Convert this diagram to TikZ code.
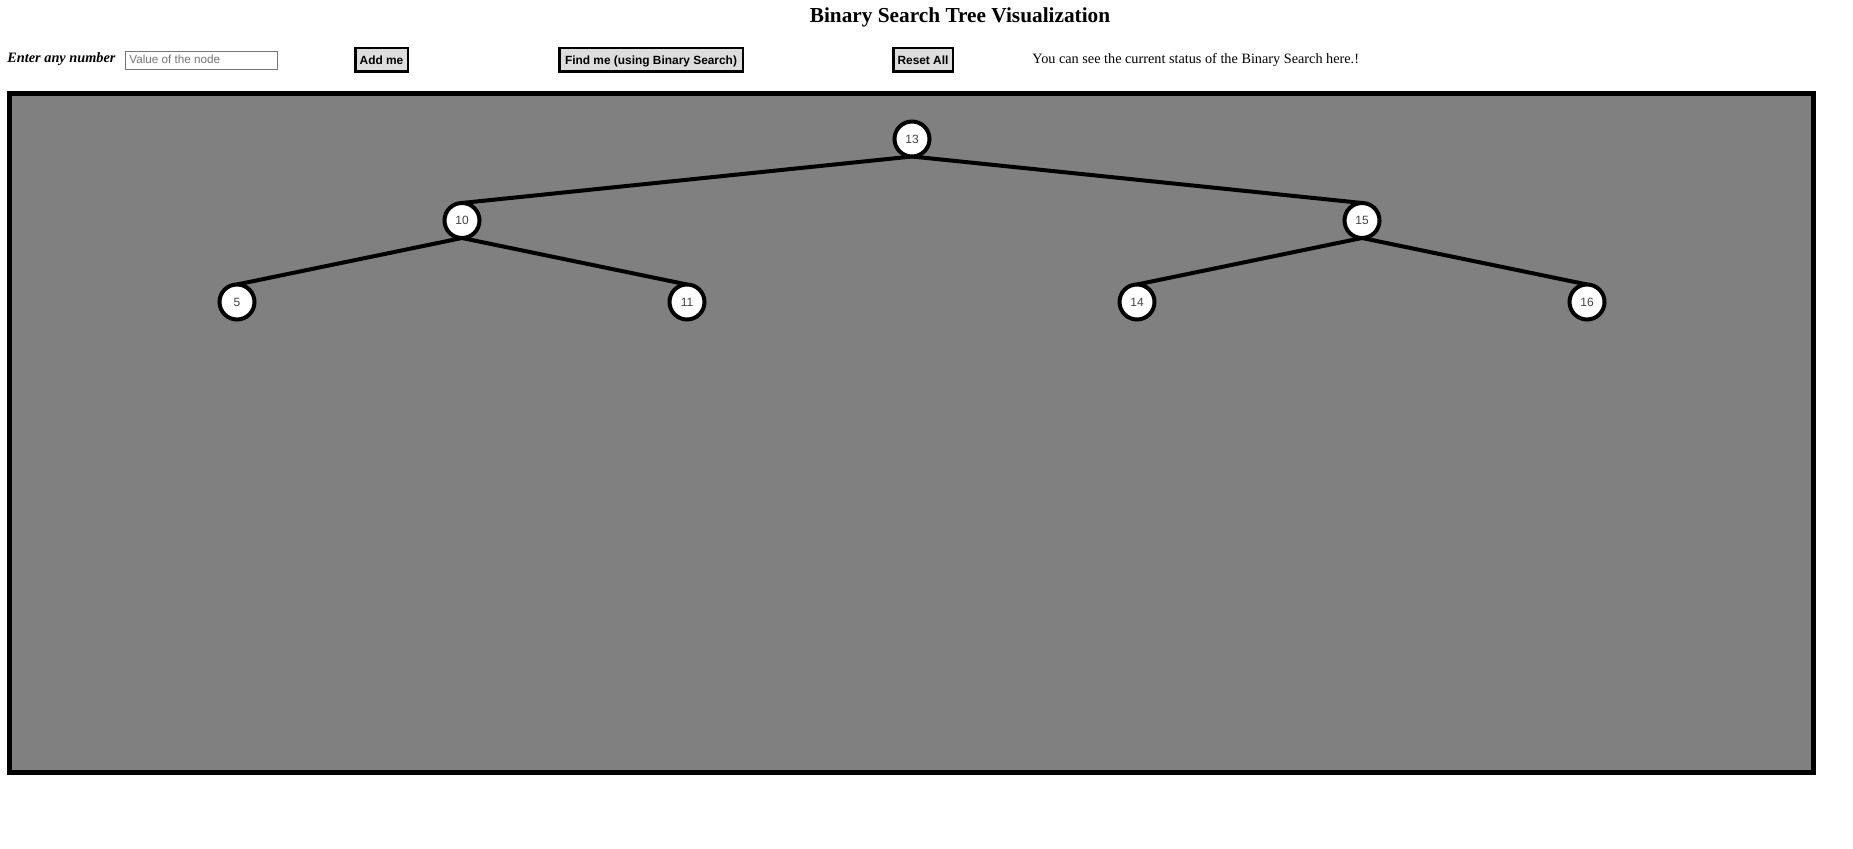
\documentclass[tikz,border=0pt]{standalone}
\usepackage{fontspec}
\setmainfont{Liberation Serif}
\newfontfamily\arialf{Liberation Sans}
\pgfdeclarelayer{bg}
\pgfdeclarelayer{edges}
\pgfsetlayers{bg,edges,main}
\definecolor{canvasgray}{HTML}{808080}
\definecolor{btngray}{HTML}{DDDDDD}
\definecolor{inputborder}{HTML}{767676}
\definecolor{placeholder}{HTML}{757575}
\definecolor{nodetext}{HTML}{444444}
\begin{document}
\begin{tikzpicture}[x=0.5pt,y=-0.5pt,
  treenode/.style={circle, draw=black, fill=white, line width=2pt, minimum size=17.5pt, inner sep=0pt, outer sep=0pt, font=\arialf\fontsize{6pt}{7pt}\selectfont, text=nodetext},
  edge/.style={line width=2pt, draw=black},
  button/.style={draw=black, fill=btngray, line width=1.25pt, inner sep=0pt, minimum height=11.75pt, text height=4.25pt, text depth=0pt, font=\arialf\bfseries\fontsize{5.95pt}{7pt}\selectfont},
  inputbox/.style={draw=inputborder, fill=white, line width=0.5pt, inner sep=0pt, minimum width=76pt, minimum height=9pt},
  canvas/.style={draw=black, fill=canvasgray, line width=2.5pt}
]
\useasboundingbox (0,0) rectangle (1853,849);
% title and controls
\node[anchor=base, font=\bfseries\fontsize{10.65pt}{12pt}\selectfont] (title) at (960,23) {Binary Search Tree Visualization};
\node[anchor=base west, inner sep=0pt, font=\bfseries\itshape\fontsize{7.15pt}{8pt}\selectfont] (enter) at (7,63) {Enter any number};
\node[inputbox] (input) at (201.5,61) {};
\node[anchor=base west, inner sep=0pt, text=placeholder, font=\arialf\fontsize{5.85pt}{7pt}\selectfont] (ph) at (129,64) {Value of the node};
\node[button, minimum width=26.25pt] (add) at (381.5,60) {Add me};
\node[button, minimum width=91.75pt] (find) at (651,60) {Find me (using Binary Search)};
\node[button, minimum width=29.75pt] (reset) at (923,60) {Reset All};
\node[anchor=base west, inner sep=0pt, font=\fontsize{7.125pt}{8pt}\selectfont] (status) at (1032,64) {You can see the current status of the Binary Search here.!};
% canvas
\begin{pgfonlayer}{bg}
\draw[canvas] (9.5,93.5) rectangle (1813.5,772.5);
\end{pgfonlayer}
% tree nodes
\node[treenode] (n13) at (912,139) {13};
\node[treenode] (n10) at (462,220.5) {10};
\node[treenode] (n15) at (1362,220.5) {15};
\node[treenode] (n5) at (237,302) {5};
\node[treenode] (n11) at (687,302) {11};
\node[treenode] (n14) at (1137,302) {14};
\node[treenode] (n16) at (1587,302) {16};
% edges
\begin{pgfonlayer}{edges}
\draw[edge] (n13.south) -- (n10.north);
\draw[edge] (n13.south) -- (n15.north);
\draw[edge] (n10.south) -- (n5.north);
\draw[edge] (n10.south) -- (n11.north);
\draw[edge] (n15.south) -- (n14.north);
\draw[edge] (n15.south) -- (n16.north);
\end{pgfonlayer}
\end{tikzpicture}
\end{document}
